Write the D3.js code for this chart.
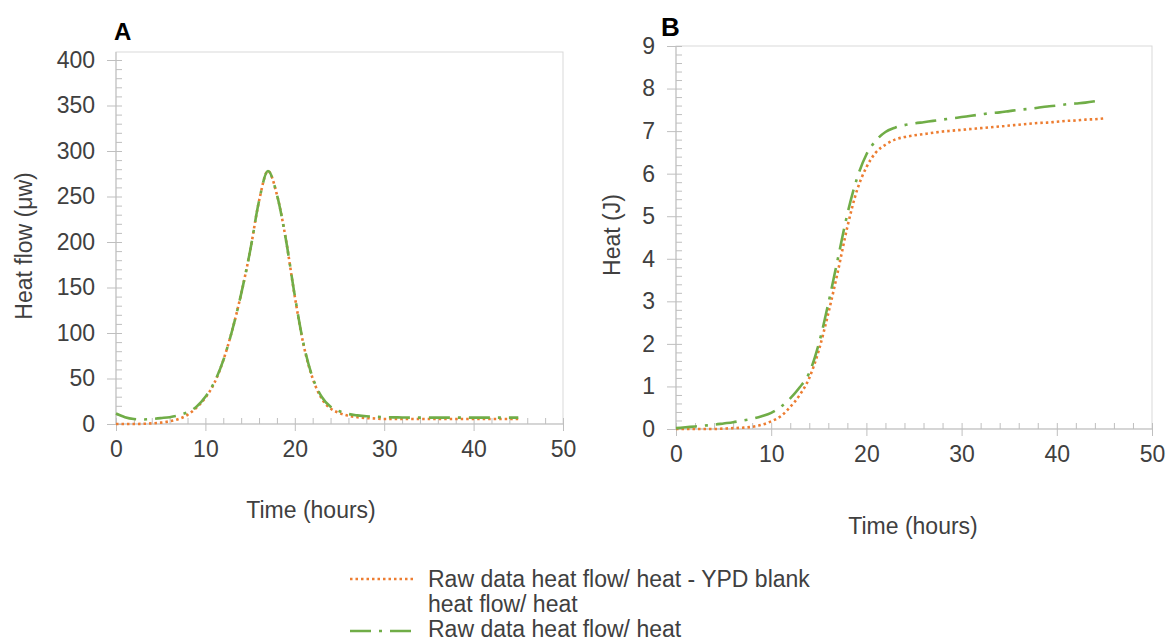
<!DOCTYPE html>
<html>
<head>
<meta charset="utf-8">
<script src="https://cdn.jsdelivr.net/npm/d3@7"></script>
<style>
	body { margin: 0; background: #fff; }
	svg { display: block; font-family: "Liberation Sans", Arial, sans-serif; }
	.tick text { fill: #404040; font-size: 23px; }
	.title { fill: #404040; font-size: 23px; }
</style>
</head>
<body>
<svg id="chart" width="1168" height="641"></svg>
<script>
/**
 * Data (time in hours).
 */
var hours = d3.range(0, 46); // 0..45 h
var hoursRawHeat = d3.range(0, 45); // green B curve stops at 44 h

// A: heat flow (µW)
var flowBlankCorrected = [0, 0, 0, 0.2, 0.7, 1.5, 3, 5.5, 10, 18, 29, 45, 70, 103, 143, 190, 245, 278, 252, 203,
	140, 86, 50, 28, 17, 12, 9, 7.5, 6.5, 6, 5.5, 5.5, 5.5, 5.5, 5.5, 5.5, 5.5, 5.5, 5.5, 5.5, 5.5, 5.5, 5.5, 5.5, 5.5, 5.5];
var flowRaw = [11.5, 7.5, 5.5, 5, 5.5, 6.5, 7.5, 9.5, 13, 19, 30, 46, 70, 103, 143, 190, 245, 278, 252, 203,
	141, 87, 51, 30, 19, 14, 11, 9.5, 8.5, 8, 7.5, 7.3, 7.2, 7, 7, 7, 7, 7, 7, 7, 7, 7, 7, 7, 7, 7];

// B: cumulative heat (J)
var heatBlankCorrected = [0, 0, 0, 0, 0, 0.01, 0.02, 0.03, 0.05, 0.1, 0.18, 0.3, 0.52, 0.8, 1.2, 1.85, 2.72, 3.7, 4.75, 5.6,
	6.15, 6.5, 6.68, 6.8, 6.86, 6.9, 6.93, 6.96, 6.99, 7.01, 7.03, 7.05, 7.07, 7.09, 7.11, 7.13, 7.15, 7.17, 7.19, 7.2,
	7.22, 7.24, 7.25, 7.27, 7.28, 7.3];
var heatRaw = [0.02, 0.04, 0.06, 0.08, 0.1, 0.13, 0.16, 0.2, 0.24, 0.3, 0.38, 0.52, 0.72, 0.98, 1.32, 2.0, 2.95, 4.0, 5.05, 5.88,
	6.45, 6.78, 6.98, 7.08, 7.14, 7.18, 7.21, 7.24, 7.27, 7.3, 7.33, 7.36, 7.39, 7.42, 7.44, 7.47, 7.5, 7.52, 7.55, 7.58,
	7.6, 7.63, 7.65, 7.67, 7.7];

var xTicks = [0, 10, 20, 30, 40, 50];
var flowTicks = [0, 50, 100, 150, 200, 250, 300, 350, 400];
var heatTicks = [0, 1, 2, 3, 4, 5, 6, 7, 8, 9];
var legendLabels = [["Raw data heat flow/ heat - YPD blank", "heat flow/ heat"], ["Raw data heat flow/ heat"]];

var orange = "#ED7D31",
	green = "#70AD47",
	axisColor = "#bfbfbf";

var svg = d3.select("#chart");

var panels = [{
		letter: "A",
		letterPos: [114, 40],
		letterSize: 24,
		x: d3.scaleLinear().domain([0, 50]).range([116, 563]),
		y: d3.scaleLinear().domain([0, 400]).range([424, 60]),
		frameTop: 52,
		yTicks: flowTicks,
		yMinor: d3.range(0, 401, 10),
		yTitle: "Heat flow (\u03bcw)",
		yTitlePos: [32, 246],
		xTitlePos: [311, 518],
		series: [{ t: hours, v: flowBlankCorrected, color: orange, dash: "2.5,3" },
			{ t: hours, v: flowRaw, color: green, dash: "21,8,3,8" }]
	}, {
		letter: "B",
		letterPos: [661, 36],
		letterSize: 26,
		x: d3.scaleLinear().domain([0, 50]).range([676, 1152]),
		y: d3.scaleLinear().domain([0, 9]).range([429, 46]),
		frameTop: 46,
		yTicks: heatTicks,
		yMinor: d3.range(0, 9.01, 0.2),
		yTitle: "Heat (J)",
		yTitlePos: [620, 235],
		xTitlePos: [913, 534],
		series: [{ t: hours, v: heatBlankCorrected, color: orange, dash: "2.5,3" },
			{ t: hoursRawHeat, v: heatRaw, color: green, dash: "21,8,3,8" }]
	}];

panels.forEach(drawPanel);
drawLegend();

function drawPanel(p) {
	var x0 = p.x.range()[0],
		x1 = p.x.range()[1],
		y0 = p.y.range()[0];

	// plot area border
	svg.append("rect")
		.attr("x", x0)
		.attr("y", p.frameTop)
		.attr("width", x1 - x0)
		.attr("height", y0 - p.frameTop)
		.attr("fill", "none")
		.attr("stroke", "#d9d9d9")
		.attr("stroke-width", 1);

	// y axis: labelled major ticks outside, small ticks inside
	svg.append("g")
		.attr("transform", "translate(" + x0 + ",0)")
		.call(d3.axisLeft(p.y).tickValues(p.yTicks).tickSize(9).tickPadding(12));
	svg.append("g")
		.attr("transform", "translate(" + x0 + ",0)")
		.call(d3.axisRight(p.y).tickValues(p.yMinor).tickSize(6).tickFormat(""));

	// x axis
	svg.append("g")
		.attr("transform", "translate(0," + y0 + ")")
		.call(d3.axisBottom(p.x).tickValues(xTicks).tickSize(7).tickPadding(10));
	svg.append("g")
		.attr("transform", "translate(0," + y0 + ")")
		.call(d3.axisTop(p.x).tickValues(d3.range(0, 51, 2)).tickSize(6).tickFormat(""));

	svg.selectAll(".domain").remove();
	svg.selectAll(".tick line").attr("stroke", axisColor);

	// axis lines
	svg.append("line")
		.attr("x1", x0).attr("x2", x0)
		.attr("y1", p.frameTop).attr("y2", y0)
		.attr("stroke", axisColor);
	svg.append("line")
		.attr("x1", x0).attr("x2", x1)
		.attr("y1", y0).attr("y2", y0)
		.attr("stroke", axisColor);

	// curves
	p.series.forEach(function (s) {
		var line = d3.line()
			.x(function (d, i) { return p.x(s.t[i]); })
			.y(function (d) { return p.y(d); })
			.curve(d3.curveMonotoneX);
		svg.append("path")
			.datum(s.v)
			.attr("d", line)
			.attr("fill", "none")
			.attr("stroke", s.color)
			.attr("stroke-width", 2.6)
			.attr("stroke-dasharray", s.dash);
	});

	// titles
	svg.append("text")
		.attr("class", "title")
		.attr("text-anchor", "middle")
		.attr("transform", "translate(" + p.yTitlePos[0] + "," + p.yTitlePos[1] + ") rotate(-90)")
		.text(p.yTitle);
	svg.append("text")
		.attr("class", "title")
		.attr("text-anchor", "middle")
		.attr("x", p.xTitlePos[0])
		.attr("y", p.xTitlePos[1])
		.text("Time (hours)");

	svg.append("text")
		.attr("x", p.letterPos[0])
		.attr("y", p.letterPos[1])
		.attr("font-size", p.letterSize)
		.attr("font-weight", "bold")
		.attr("fill", "#000")
		.text(p.letter);
}

function drawLegend() {
	var items = [{ color: orange, dash: "2.5,3", y: 579, textY: 587 },
		{ color: green, dash: "21,8,3,8", y: 631, textY: 637 }];

	items.forEach(function (it, i) {
		svg.append("line")
			.attr("x1", 350).attr("x2", 416)
			.attr("y1", it.y).attr("y2", it.y)
			.attr("stroke", it.color)
			.attr("stroke-width", 2.6)
			.attr("stroke-dasharray", it.dash);

		var t = svg.append("text")
			.attr("class", "title")
			.attr("font-size", "24px")
			.attr("x", 428)
			.attr("y", it.textY);
		legendLabels[i].forEach(function (s, j) {
			t.append("tspan")
				.attr("x", 428)
				.attr("dy", j ? 25 : 0)
				.text(s);
		});
	});
}
</script>
</body>
</html>
